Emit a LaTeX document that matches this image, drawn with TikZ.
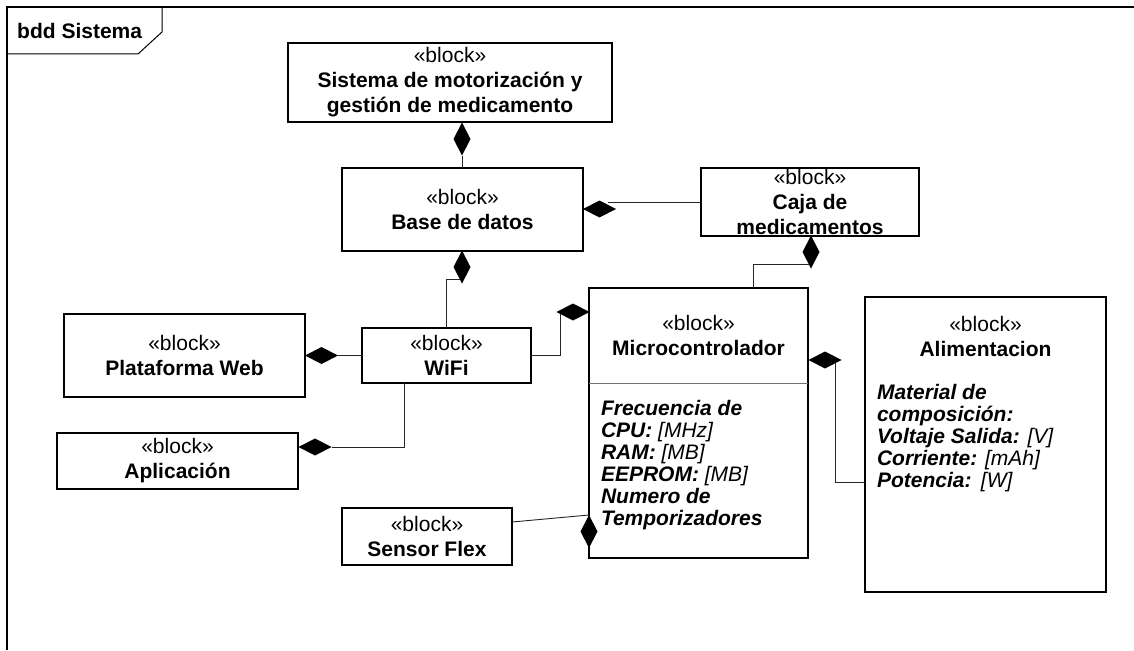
\documentclass[tikz,border=0pt]{standalone}
\usepackage{fontspec}
\setmainfont{Liberation Sans}
\usetikzlibrary{shapes.geometric}
\newcommand\fsz{\fontsize{21}{25}\selectfont}
\newcommand\afsz{\fontsize{21}{22}\selectfont}
\newcommand\attr[2]{{\bfseries\itshape #1} {\itshape #2}}
\tikzset{
  blk/.style={draw=black, line width=1.2pt, inner sep=0pt, outer sep=0pt, align=center, font=\fsz},
  ttl/.style={inner sep=0pt, outer sep=0pt, align=center, font=\fsz},
  attrs/.style={inner sep=0pt, outer sep=0pt, align=left, font=\afsz, anchor=north west},
  dmd/.style={shape=diamond, fill=black, draw=none, inner sep=0pt, outer sep=0pt},
  hd/.style={dmd, minimum width=33pt, minimum height=17pt},
  vd/.style={dmd, minimum width=17pt, minimum height=33pt},
  conn/.style={draw=black!85, line width=0.9pt},
  framel/.style={draw=black, line width=1.3pt},
}
\begin{document}
\begin{tikzpicture}[x=1pt, y=-1pt]
\useasboundingbox (0,0) rectangle (1134,650);
% frame
\draw[framel] (7,650) -- (7,7) -- (1134,7);
\draw[framel, line width=1pt] (7,54) -- (138,54) -- (162,32) -- (162,7);
\node[anchor=west, inner sep=0pt, font=\fsz\bfseries] (flabel) at (17,31) {bdd Sistema};

% blocks
\node[blk, minimum width=324pt, minimum height=79pt] (sis) at (450,82.5)
  {«block»\\\textbf{Sistema de motorización y}\\\textbf{gestión de medicamento}};
\node[blk, minimum width=241pt, minimum height=83pt] (base) at (462.5,209.5)
  {«block»\\\textbf{Base de datos}};
\node[blk, minimum width=218pt, minimum height=68pt] (caja) at (810,202)
  {«block»\\\textbf{Caja de}\\\textbf{medicamentos}};
\node[blk, minimum width=241pt, minimum height=83pt] (plat) at (184.5,355.5)
  {«block»\\\textbf{Plataforma Web}};
\node[blk, minimum width=169pt, minimum height=55pt] (wifi) at (446.5,355.5)
  {«block»\\\textbf{WiFi}};
\node[blk, minimum width=241pt, minimum height=56pt] (aplic) at (177.5,461)
  {«block»\\\textbf{Aplicación}};
\node[blk, minimum width=170pt, minimum height=57pt] (sensor) at (427,536.5)
  {«block»\\\textbf{Sensor Flex}};

% Microcontrolador
\node[blk, minimum width=219pt, minimum height=270pt] (micro) at (698.5,423) {};
\node[ttl] (microt) at (698.5,335.5) {«block»\\\textbf{Microcontrolador}};
\draw[draw=black!55, line width=0.8pt] (micro.north west) ++(0,95) -- ++(219,0);
\node[attrs] (microa) at (601,400)
  {\attr{Frecuencia de}{}\\\attr{CPU:}{[MHz]}\\\attr{RAM:}{[MB]}\\\attr{EEPROM:}{[MB]}\\\attr{Numero de}{}\\\attr{Temporizadores}{}};

% Alimentacion
\node[blk, minimum width=241pt, minimum height=295pt] (alim) at (985.5,444.5) {};
\node[ttl] (alimt) at (985.5,336) {«block»\\\textbf{Alimentacion}};
\node[attrs] (alima) at (877,384)
  {\attr{Material de}{}\\\attr{composición:}{}\\\attr{Voltaje Salida:}{[V]}\\\attr{Corriente:}{[mAh]}\\{\bfseries\itshape Potencia:}\hspace{0.45em}{\itshape [W]}};

% composition diamonds
\node[vd] (d1) at (462,139) {};
\node[vd] (d2) at (462,267) {};
\node[hd] (d3) at (599.5,209) {};
\node[vd] (d4) at (811,252) {};
\node[hd] (d5) at (573,312) {};
\node[hd] (d6) at (321.5,355.5) {};
\node[hd] (d7) at (315,447) {};
\node[hd] (d8) at (825,360) {};
\node[vd] (d9) at (589,531.5) {};

% connectors
\draw[conn] (d1.south) -- (d1.south |- base.north);
\draw[conn] (d2.260) -| (wifi.north);
\draw[conn] (caja.west) -- (caja.west -| d3.north east);
\draw[conn] (d4.260) -| ([xshift=54.5pt]micro.north);
\draw[conn] (wifi.east) -| (d5.188);
\draw[conn] (d6.east) -- (wifi.west);
\draw[conn] (d7.east) -| ([xshift=-42.5pt]wifi.south);
\draw[conn] (d8.345) |- ([yshift=-37.5pt]alim.west);
\draw[conn] ([yshift=14.5pt]sensor.east) -- (d9.north);
\end{tikzpicture}
\end{document}
